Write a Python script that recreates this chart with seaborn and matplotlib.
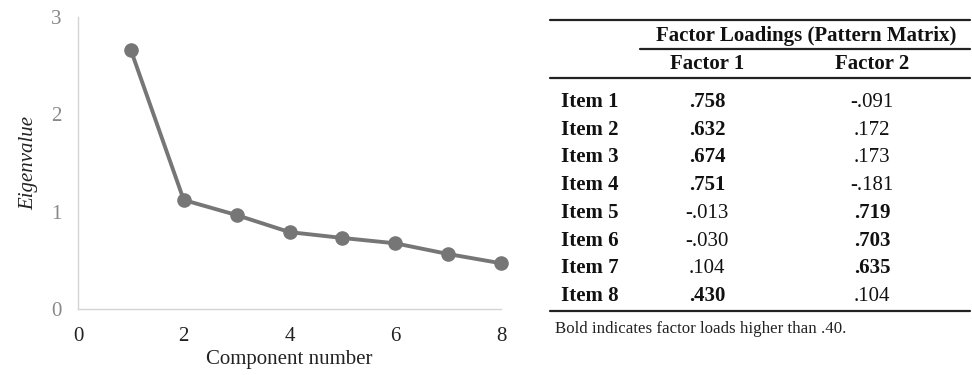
import matplotlib
matplotlib.use("Agg")
import matplotlib.pyplot as plt
from matplotlib.lines import Line2D
import seaborn as sns
import pandas as pd

# Scree plot data
components = [1, 2, 3, 4, 5, 6, 7, 8]
eigenvalues = [2.66, 1.12, 0.965, 0.79, 0.73, 0.675, 0.565, 0.47]

# Pattern matrix
items = ["Item 1", "Item 2", "Item 3", "Item 4", "Item 5", "Item 6", "Item 7", "Item 8"]
factor1 = [0.758, 0.632, 0.674, 0.751, -0.013, -0.030, 0.104, 0.430]
factor2 = [-0.091, 0.172, 0.173, -0.181, 0.719, 0.703, 0.635, 0.104]
factor_names = ["Factor 1", "Factor 2"]
table_title = "Factor Loadings (Pattern Matrix)"
note = "Bold indicates factor loads higher than .40."
threshold = 0.40

sns.set_theme(style="white")
plt.rcParams["font.family"] = ["Liberation Serif", "DejaVu Serif"]

fig = plt.figure(figsize=(9.72, 3.75), dpi=100)
ax = fig.add_axes([78 / 972, 1 - 309 / 375, (501 - 78) / 972, (309 - 17) / 375])

df = pd.DataFrame({"Component number": components, "Eigenvalue": eigenvalues})
sns.lineplot(data=df, x="Component number", y="Eigenvalue", ax=ax,
             color="#767676", linewidth=2.8, marker="o", markersize=10.5,
             markeredgewidth=0, markerfacecolor="#767676", clip_on=False)

ax.set_xlim(0, 8)
ax.set_ylim(0, 3)
ax.set_xticks([0, 2, 4, 6, 8])
ax.set_yticks([0, 1, 2, 3])
ax.tick_params(axis="x", length=0, pad=13, labelsize=15, labelcolor="#222222")
ax.tick_params(axis="y", length=0, pad=12, labelsize=15, labelcolor="#888888")
for s in ("top", "right"):
    ax.spines[s].set_visible(False)
for s in ("left", "bottom"):
    ax.spines[s].set_color("#d4d4d4")
    ax.spines[s].set_linewidth(1.0)
ax.set_xlabel("Component number", fontsize=15, color="#222222", labelpad=3)
ax.set_ylabel("Eigenvalue", fontsize=15, color="#222222", style="italic", labelpad=9)


def fmt(v):
    s = f"{v:.3f}"
    return s.replace("0.", ".", 1)


def fy(py):
    return 1 - py / 375


def fx(px):
    return px / 972


rule_kw = dict(color="#222222", linewidth=1.6, transform=fig.transFigure)
fig.add_artist(Line2D([fx(550), fx(970)], [fy(20), fy(20)], **rule_kw))
fig.add_artist(Line2D([fx(640), fx(970)], [fy(49), fy(49)], **rule_kw))
fig.add_artist(Line2D([fx(550), fx(970)], [fy(78), fy(78)], **rule_kw))
fig.add_artist(Line2D([fx(550), fx(970)], [fy(311), fy(311)], **rule_kw))

# text rows are placed by baseline so bold and regular cells line up
txt = dict(fontsize=15, color="#111111", va="baseline")
fig.text(fx(806), fy(41), table_title, ha="center", fontweight="bold", **txt)
col_x = [707, 872]
for cx, name in zip(col_x, factor_names):
    fig.text(fx(cx), fy(69), name, ha="center", fontweight="bold", **txt)

row_base = [107, 135, 162, 190, 218, 246, 273, 301]
for ry, item, a, b in zip(row_base, items, factor1, factor2):
    fig.text(fx(561), fy(ry), item, ha="left", fontweight="bold", **txt)
    for cx, v in zip(col_x, (a, b)):
        fig.text(fx(cx), fy(ry), fmt(v), ha="center",
                 fontweight="bold" if abs(v) > threshold else "normal", **txt)

fig.text(fx(555), fy(333), note, ha="left", va="baseline", fontsize=12.2, color="#222222")

fig.savefig("out.png", dpi=100)
